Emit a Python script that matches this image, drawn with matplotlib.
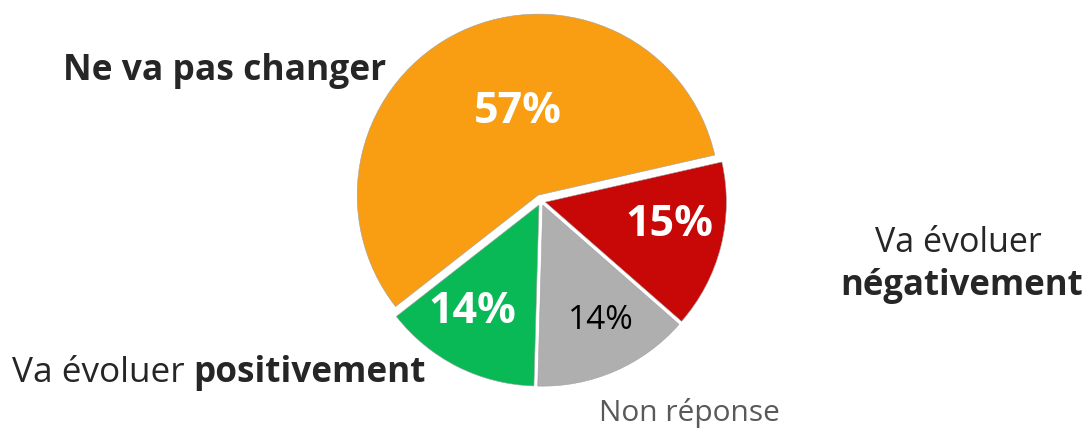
import matplotlib
matplotlib.use("Agg")
import matplotlib.pyplot as plt
import numpy as np

plt.rcParams['font.family'] = ['Open Sans', 'DejaVu Sans']

# slices in clockwise order starting from the red one
categories = ['Va évoluer négativement', 'Non réponse', 'Va évoluer positivement', 'Ne va pas changer']
values = [15, 14, 14, 57]
colors = ['#C80707', '#AFAFAF', '#08B956', '#F99E12']
pct_colors = ['white', 'black', 'white', 'white']
pct_weights = ['bold', 'normal', 'bold', 'bold']
pct_sizes = [31, 24, 31, 31]
pct_dist = [0.72, 0.74, 0.72, 0.51]
pct_turn = [4, 3, -5, -11]   # degrees, nudges label off the wedge middle

W, H = 1092, 429
fig = plt.figure(figsize=(W / 100, H / 100), dpi=100)
ax = fig.add_axes([0, 0, 1, 1])

cx, cy, r = 541, H - 201, 181
wedges, _ = ax.pie(values, colors=colors, startangle=12.8, counterclock=False,
                   explode=[4.5, 4.5, 4.5, 6.5], center=(cx, cy), radius=r,
                   wedgeprops=dict(edgecolor='#a0a0a0', linewidth=0.4))
ax.set_xlim(0, W)
ax.set_ylim(0, H)
ax.set_aspect('equal')
ax.axis('off')

for w, v, c, fw, fs, d, t in zip(wedges, values, pct_colors, pct_weights, pct_sizes,
                                 pct_dist, pct_turn):
    mid = np.deg2rad((w.theta1 + w.theta2) / 2 + t)
    x = cx + d * r * np.cos(mid)
    y = cy + d * r * np.sin(mid)
    ax.text(x, y, f"{v}%", color=c, fontsize=fs, fontweight=fw, ha='center', va='center')

dark = '#262626'
ax.text(63, H - 80, 'Ne va pas changer', fontsize=25.5, fontweight='bold', color=dark,
        ha='left', va='baseline')
ax.text(958, H - 252, 'Va évoluer', fontsize=24.5, color=dark, ha='center', va='baseline')
ax.text(962, H - 295, 'négativement', fontsize=25, fontweight='bold', color=dark,
        ha='center', va='baseline')
ax.text(599, H - 421, 'Non réponse', fontsize=21.5, color='#595959', ha='left', va='baseline')

# mixed weight label
t1 = ax.text(12, H - 382, 'Va évoluer ', fontsize=25.3, color=dark, ha='left', va='baseline')
renderer = fig.canvas.get_renderer()
bb = t1.get_window_extent(renderer).transformed(ax.transData.inverted())
ax.text(bb.x1, H - 382, 'positivement', fontsize=25.3, fontweight='bold', color=dark,
        ha='left', va='baseline')

fig.savefig('out.png', dpi=100)
